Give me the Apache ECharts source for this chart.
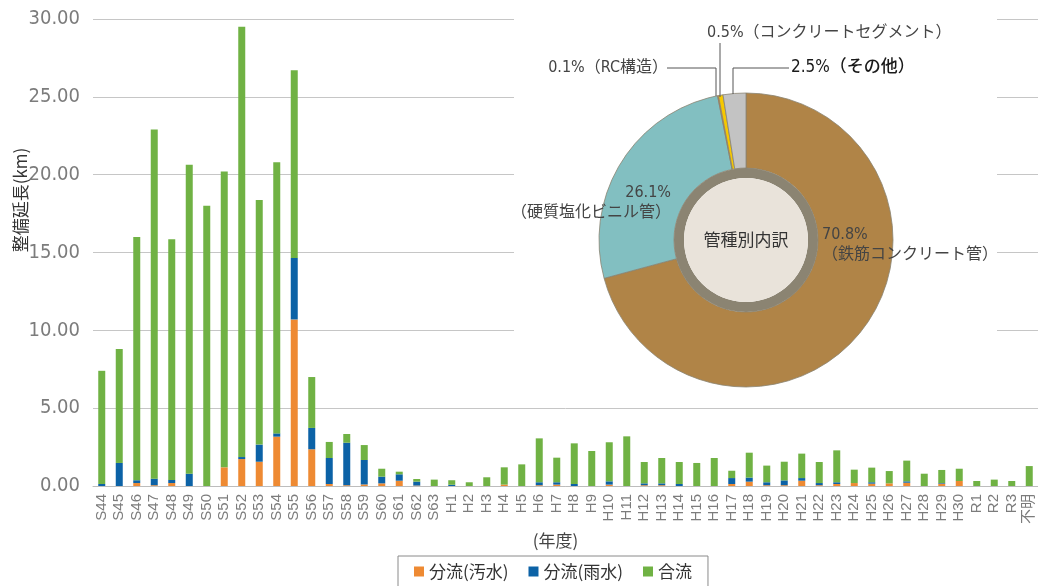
<!DOCTYPE html>
<html><head><meta charset="utf-8">
<script src="https://cdn.jsdelivr.net/npm/echarts@6/dist/echarts.min.js"></script>
<style>html,body{margin:0;padding:0;background:#fff}#c{width:1038px;height:586px}</style>
</head><body><div id="c"></div>
<script>
const categories = ['S44','S45','S46','S47','S48','S49','S50','S51','S52','S53','S54','S55','S56','S57','S58','S59','S60','S61','S62','S63',
  'H1','H2','H3','H4','H5','H6','H7','H8','H9','H10','H11','H12','H13','H14','H15','H16','H17','H18','H19','H20',
  'H21','H22','H23','H24','H25','H26','H27','H28','H29','H30','R1','R2','R3','不明'];
const seriesNames = ['分流(汚水)','分流(雨水)','合流'];
const sewage = [0,0,0.19,0.05,0.19,0,0,1.2,1.73,1.56,3.17,10.7,2.36,0.13,0.05,0.1,0.17,0.34,0.03,0,
  0,0,0,0.09,0,0.05,0.09,0,0,0.09,0,0.05,0.05,0,0,0,0.13,0.28,0.05,0.05,
  0.34,0.05,0.13,0.19,0.15,0.17,0.21,0,0.15,0.32,0,0,0,0];
const rain = [0.13,1.48,0.18,0.42,0.2,0.79,0,0,0.13,1.1,0.21,3.95,1.37,1.67,2.73,1.57,0.43,0.41,0.25,0,
  0.08,0,0,0,0,0.19,0.15,0.13,0,0.21,0,0.12,0.12,0.13,0,0,0.38,0.26,0.19,0.31,
  0.17,0.14,0.11,0,0.09,0,0.09,0,0.04,0,0,0,0,0];
const combined = [7.27,7.32,15.63,22.43,15.46,19.84,18.0,19.0,27.64,15.72,17.42,12.05,3.27,1.03,0.56,0.96,0.51,0.17,0.17,0.41,
  0.29,0.24,0.56,1.11,1.39,2.82,1.58,2.61,2.25,2.51,3.19,1.37,1.63,1.41,1.48,1.8,0.47,1.6,1.07,1.2,
  1.57,1.35,2.05,0.86,0.94,0.79,1.33,0.79,0.84,0.79,0.32,0.41,0.32,1.28];
const pieNames = ['鉄筋コンクリート管','硬質塩化ビニル管','RC構造','コンクリートセグメント','その他'];
const pieValues = [70.8,26.1,0.1,0.5,2.5];
const pieCenterLabel = '管種別内訳';
const yAxisName = '整備延長(km)';
const xAxisName = '(年度)';

const NUM = "'Liberation Sans Narrow','DejaVu Sans Condensed','Noto Sans CJK JP',sans-serif";
const JP = "'Noto Sans CJK JP',sans-serif";
const barColors = ['#ee8a33','#0c62a6','#70b244'];
const pieColors = ['#b08447','#82bfc1','#e4601e','#f6c800','#c3c3c3'];
const pct = i => pieValues[i].toFixed(1) + '%';

const chart = echarts.init(document.getElementById('c'));
const lineStyle = {stroke:'#555', lineWidth:1, fill:null};
chart.setOption({
  backgroundColor:'#ffffff',
  animation:false,
  grid:{left:93, right:0, top:19, bottom:100},
  legend:{
    data:seriesNames, left:398, top:556, icon:'rect', itemWidth:10, itemHeight:10, itemGap:20,
    borderColor:'#8a8a8a', borderWidth:1, padding:[7,16,12,16],
    textStyle:{fontSize:17, color:'#333', fontFamily:JP}
  },
  xAxis:{
    type:'category', data:categories,
    axisLine:{lineStyle:{color:'#bdbdbd'}}, axisTick:{show:false},
    axisLabel:{rotate:90, interval:0, margin:8, fontSize:15, color:'#7c7c7c', fontFamily:"'Liberation Sans','Noto Sans CJK JP',sans-serif"},
    name:xAxisName, nameLocation:'middle', nameGap:43,
    nameTextStyle:{fontSize:17, color:'#444', fontFamily:JP, padding:[0,20,0,0]}
  },
  yAxis:{
    type:'value', min:0, max:30, interval:5,
    axisLine:{show:false}, axisTick:{show:false},
    splitLine:{lineStyle:{color:'#c6c6c6'}},
    axisLabel:{formatter:v=>v.toFixed(2), fontSize:20, color:'#7c7c7c', margin:13, fontFamily:NUM}
  },
  graphic:[
    {type:'rect', z:1, shape:{x:514, y:0, width:483, height:396}, style:{fill:'#ffffff'}},
    {type:'text', z:10, x:21, y:200, rotation:Math.PI/2,
      style:{text:yAxisName, font:"17px 'Noto Sans CJK JP',sans-serif", fill:'#333', textAlign:'center', textVerticalAlign:'middle'}},
    {type:'text', z:10, x:707, y:33, style:{text:pct(3)+'（'+pieNames[3]+'）', font:"16px "+NUM, fill:'#444', textAlign:'left', textVerticalAlign:'middle'}},
    {type:'text', z:10, x:668, y:68, style:{text:pct(2)+'（'+pieNames[2]+'）', font:"16px "+NUM, fill:'#444', textAlign:'right', textVerticalAlign:'middle'}},
    {type:'text', z:10, x:791, y:68, style:{text:pct(4)+'（'+pieNames[4]+'）', font:"500 17px "+NUM, fill:'#1a1a1a', textAlign:'left', textVerticalAlign:'middle'}},
    {type:'text', z:10, x:671, y:203, style:{text:pct(1)+'\n（'+pieNames[1]+'）', font:"16px "+NUM, fill:'#444', textAlign:'right', textVerticalAlign:'middle', lineHeight:20}},
    {type:'text', z:10, x:822, y:245, style:{text:pct(0)+'\n（'+pieNames[0]+'）', font:"16px "+NUM, fill:'#444', textAlign:'left', textVerticalAlign:'middle', lineHeight:20}},
    {type:'polyline', z:10, shape:{points:[[667,68],[716,68],[716,96]]}, style:lineStyle},
    {type:'polyline', z:10, shape:{points:[[720,43],[720,97]]}, style:lineStyle},
    {type:'polyline', z:10, shape:{points:[[789,68],[733,68],[733,94]]}, style:lineStyle}
  ],
  series:[
    ...seriesNames.map((n,i)=>({
      name:n, type:'bar', stack:'total', barWidth:7,
      data:[sewage,rain,combined][i], itemStyle:{color:barColors[i]}
    })),
    {type:'pie', center:[746,240], radius:[72,147], startAngle:90, clockwise:true, silent:true,
      label:{show:false}, labelLine:{show:false}, z:3,
      itemStyle:{borderColor:'#8a8472', borderWidth:0.8},
      data:pieNames.map((n,i)=>({name:n, value:pieValues[i], itemStyle:{color:pieColors[i]}}))},
    {type:'pie', center:[746,240], radius:[62,72], silent:true, z:3,
      label:{show:false}, labelLine:{show:false},
      data:[{value:1, itemStyle:{color:'#8b8472'}}]},
    {type:'pie', center:[746,240], radius:[0,62], silent:true, z:3,
      label:{show:true, position:'center', formatter:pieCenterLabel, fontSize:17, color:'#333', fontFamily:JP},
      labelLine:{show:false},
      data:[{value:1, itemStyle:{color:'#e9e3da'}}]}
  ]
});
</script></body></html>
